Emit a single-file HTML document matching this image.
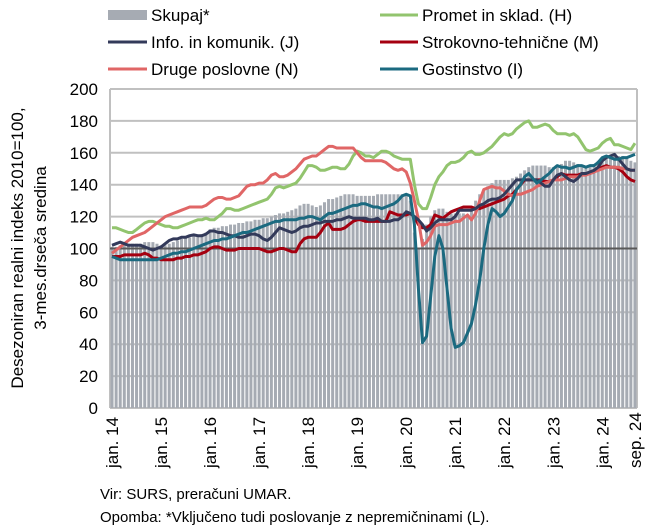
<!DOCTYPE html>
<html><head><meta charset="utf-8"><style>
body{margin:0;background:#fff;}
svg{display:block;font-family:"Liberation Sans",sans-serif;}
</style></head><body>
<svg id="chart" width="651" height="532" viewBox="0 0 651 532" xmlns="http://www.w3.org/2000/svg">
<g id="legend" font-size="17" fill="#000">
 <g><rect x="108" y="10" width="39" height="10" fill="#a6abb3"/><text x="151" y="21">Skupaj*</text></g>
 <g><line x1="380" y1="15" x2="418" y2="15" stroke="#92c46e" stroke-width="3"/><text x="422" y="21">Promet in sklad. (H)</text></g>
 <g><line x1="108" y1="42" x2="147" y2="42" stroke="#333a5a" stroke-width="3"/><text x="151" y="48">Info. in komunik. (J)</text></g>
 <g><line x1="380" y1="42" x2="418" y2="42" stroke="#a50010" stroke-width="3"/><text x="422" y="48">Strokovno-tehnične (M)</text></g>
 <g><line x1="108" y1="69" x2="147" y2="69" stroke="#e06666" stroke-width="3"/><text x="151" y="75">Druge poslovne (N)</text></g>
 <g><line x1="380" y1="69" x2="418" y2="69" stroke="#1b6a80" stroke-width="3"/><text x="422" y="75">Gostinstvo (I)</text></g>
</g>
<g id="grid"></g>
<g id="bars"></g>
<g id="lines"></g>
<g id="yticks" font-size="17" text-anchor="end"></g>
<g id="xticks" font-size="17"></g>
<g font-size="17" text-anchor="middle">
 <text transform="translate(23,248) rotate(-90)">Desezoniran realni indeks 2010=100,</text>
 <text transform="translate(46,248) rotate(-90)">3-mes.drseča sredina</text>
</g>
<text x="100" y="499" font-size="15">Vir: SURS, preračuni UMAR.</text>
<text x="100" y="522" font-size="15">Opomba: *Vključeno tudi poslovanje z nepremičninami (L).</text>
</svg>
<script>
const yTicks=[0,20,40,60,80,100,120,140,160,180,200];
const xLabels=["jan. 14","jan. 15","jan. 16","jan. 17","jan. 18","jan. 19","jan. 20","jan. 21","jan. 22","jan. 23","jan. 24","sep. 24"];
const xLabelIdx=[0,12,24,36,48,60,72,84,96,108,120,128];
const skupaj=[101,101,102,102,103,103,103,103,104,104,104,103,102,102,103,104,105,106,107,107,108,108,109,110,112,113,113,114,114,115,115,116,116,117,117,118,118,119,119,120,121,122,122,123,124,125,127,128,128,127,126,127,129,131,131,132,133,134,134,134,133,133,133,133,133,134,134,134,134,134,134,134,134,130,110,100,106,115,120,124,125,125,123,122,122,122,122,121,125,130,134,137,139,141,143,143,143,143,144,145,147,149,151,152,152,152,152,151,151,151,153,155,155,154,153,152,152,152,153,155,156,156,157,158,158,158,157,155,154];
const promet=[113,113,112,111,110,110,112,114,116,117,117,116,115,114,114,113,113,114,115,116,117,118,118,119,118,118,120,122,125,125,124,124,125,126,127,128,129,130,131,134,138,139,138,139,140,141,144,148,152,152,151,149,149,150,151,151,150,150,153,158,161,160,158,158,157,159,161,161,160,158,157,156,156,156,140,128,125,125,132,140,145,148,152,154,154,155,157,160,161,159,159,160,162,164,167,170,172,171,172,175,177,179,180,176,176,177,178,177,174,172,172,172,171,172,170,166,162,161,162,163,166,168,169,165,165,164,163,162,166];
const info=[102,103,104,103,102,102,102,102,101,100,99,100,101,103,105,106,106,107,107,108,108.5,108,108,109,111,111,110,110,109,108,108,107,107,108,109,109,108,106,105,107,110,113,112,111,110,111,113,114,114,115,116,116,117,117,117,118,118,119,120,119,119,119,119,118,118,119,117,117,117,118,118,120,123,122,120,118,115,111,113,116,118,118,118,118,120,124,124,124,124,125,127,128,130,131,131,132,134,137,140,143,143,143,143,143,143,141,139,139,143,146,147,145,143,142,144,147,147,148,149,151,155,157,158,159,156,153,150,149,149];
const strokovno=[95,95,95,96,96,96,96,96,97,96,94,94,93,93,93,93,94,94,95,95,96,96,97,98,100,101,101,100,99,99,99,100,100,100,100,100,100,99,98,98,99,100,100,99,98,98,103,106,107,107,107,110,114,116,112,112,112,113,115,117,118,118,117,117,117,117,117,117,123,122,121,121,121,122,120,115,113,113,115,121,120,119,121,123,124,125,126,126,126,125,125,126,127,128,129,130,131,133,134,137,140,143,143,143,143,143,142,142,143,145,147,146,146,146,146,147,147,147,148,150,151,152,151,151,150,148,145,143,142];
const druge=[97,99,101,103,105,107,108,109,110,112,114,116,118,120,121,122,123,124,125,126,126,126,126,127,129,131,132,132,131,131,132,133,136,139,140,140,141,141,143,146,147,145,145,146,148,150,153,156,157,158,158,160,162,164,164,163,163,163,163,163,160,157,155,155,155,155,155,154,152,150,149,150,148,141,130,118,102,104,108,114,115,115,115,116,117,117,119,121,118,122,130,137,138,139,138,138,136,134,133,134,134,135,136,137,139,140,141,142,143,143,143,144,145,145,145,146,146,147,148,149,150,151,151,151,151,150,150,149,149];
const gostinstvo=[95,94,93,93,93,93,93,93,93,93,93,93,94,95,96,97,97,98,98,99,100,101,102,103,104,105,105,106,106,107,108,109,110,110,111,112,113,114,115,116,117,117,118,118,118,118,119,119,120,120,119,118,120,122,122,123,124,125,126,127,127,128,128,127,126,126,125,126,127,128,130,133,134,133,115,75,41,45,70,95,108,100,75,50,38,39,41,47,53,65,80,100,115,125,123,120,122,126,130,137,140,145,147,144,141,143,145,147,150,152,151,151,150,151,152,152,151,152,152,154,157,158,157,156,156,157,157,158,159];

const NS="http://www.w3.org/2000/svg";
const X0=110,X1=637,Y0=408,Y1=89,N=129;
const step=(X1-X0)/N;
function xPos(i){return X0+(i+0.5)*step;}
function yPos(v){return Y0-(v/200)*(Y0-Y1);}
function mk(tag,attrs,parent){const e=document.createElementNS(NS,tag);for(const k in attrs)e.setAttribute(k,attrs[k]);parent.appendChild(e);return e;}

const grid=document.getElementById('grid');
yTicks.forEach(t=>{
 const l=mk('line',{x1:X0,x2:X1,y1:yPos(t),y2:yPos(t),stroke:'#c0c0c0','stroke-width':2},grid);
 
 
 const tx=mk('text',{x:98,y:yPos(t)+6},document.getElementById('yticks'));
 tx.textContent=t;
 
 
});
const rb=mk('line',{x1:X1,x2:X1,y1:Y1,y2:Y0,stroke:'#c0c0c0','stroke-width':2},grid);


const lb=mk('line',{x1:X0,x2:X0,y1:Y1,y2:Y0,stroke:'#c0c0c0','stroke-width':2},grid);



const bars=document.getElementById('bars');
skupaj.forEach((v,i)=>{
 const r=mk('rect',{x:xPos(i)-1.5,y:yPos(v),width:3,height:Y0-yPos(v),fill:'#a6abb3'},bars);
 
 
});
const base=mk('line',{x1:X0,x2:X1,y1:yPos(100),y2:yPos(100),stroke:'#595959','stroke-width':2},bars);



const lines=document.getElementById('lines');
const series=[[promet,'#92c46e','line-promet'],[strokovno,'#a50010','line-strokovno'],[druge,'#e06666','line-druge'],[info,'#333a5a','line-info'],[gostinstvo,'#1b6a80','line-gostinstvo']];
series.forEach(([d,c,n])=>{
 const p=mk('polyline',{points:d.map((v,i)=>xPos(i).toFixed(1)+','+yPos(v).toFixed(1)).join(' '),fill:'none',stroke:c,'stroke-width':3,'stroke-linejoin':'round'},lines);
 
 
});

const xt=document.getElementById('xticks');
xLabels.forEach((lab,k)=>{
 const x=xPos(xLabelIdx[k])+6;
 const t=mk('text',{transform:'translate('+x.toFixed(1)+',468) rotate(-90)'},xt);
 t.textContent=lab;
 
 
});
</script>
</body></html>
